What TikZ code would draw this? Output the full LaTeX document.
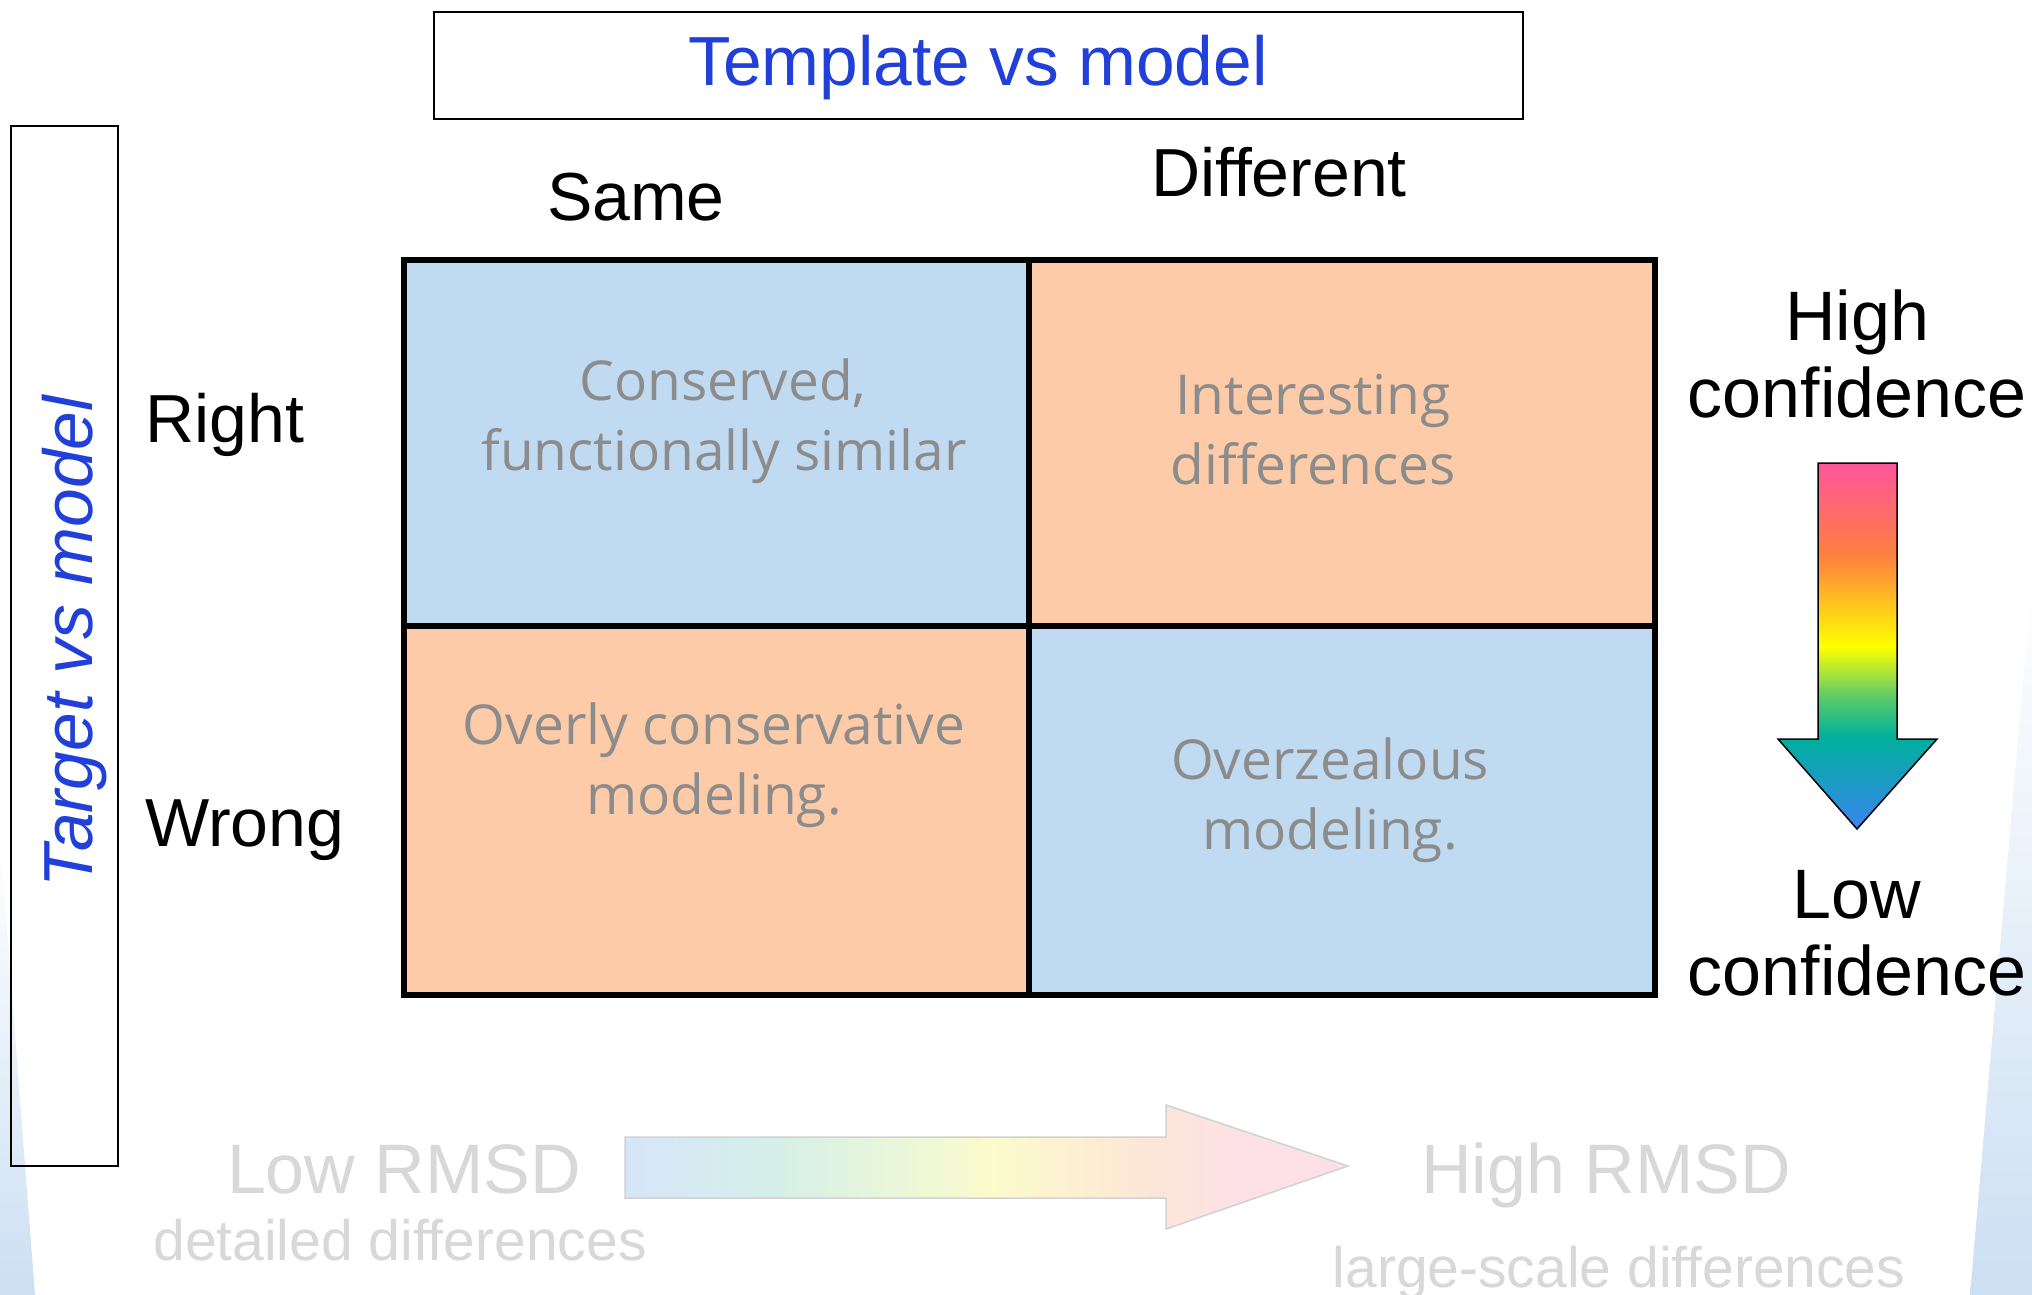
\documentclass[tikz,border=0pt]{standalone}
\usepackage{fontspec}
\setmainfont{Liberation Sans}
\newfontfamily\cellfont{Open Sans}
\usetikzlibrary{positioning}
\definecolor{cellblue}{HTML}{C0DAF2}
\definecolor{cellorange}{HTML}{FDCBA7}
\definecolor{titleblue}{HTML}{2140DA}
\definecolor{cellgray}{HTML}{8C8C8C}
\definecolor{rmsdgray}{HTML}{D8D8D8}
\definecolor{wedgeblue}{HTML}{CCDFF3}
\definecolor{cpink}{HTML}{FF559B}
\definecolor{corange}{HTML}{FF7F40}
\definecolor{cyellow}{HTML}{FFFF00}
\definecolor{cgreen}{HTML}{5ACB6A}
\definecolor{cteal}{HTML}{00B09C}
\definecolor{cblue}{HTML}{3A84EE}
\definecolor{ra}{HTML}{D6E5F9}
\definecolor{rb}{HTML}{D5F0E9}
\definecolor{rc}{HTML}{FBFBCC}
\definecolor{rd}{HTML}{FDE7D6}
\definecolor{re}{HTML}{FDE0E7}
\pgfdeclareverticalshading{confshade}{100bp}{color(0bp)=(cblue); color(25bp)=(cblue); color(37.5bp)=(cteal); color(43bp)=(cgreen); color(50bp)=(cyellow); color(62.5bp)=(corange); color(75bp)=(cpink); color(100bp)=(cpink)}
\pgfdeclarehorizontalshading{rmsdshade}{100bp}{color(0bp)=(ra); color(25bp)=(ra); color(35.5bp)=(rb); color(50.5bp)=(rc); color(60.5bp)=(rd); color(68bp)=(re); color(75bp)=(re); color(100bp)=(re)}
\tikzset{
  lbl/.style={inner sep=0pt, anchor=base, font=\fontsize{68}{80}\selectfont},
  celltxt/.style={inner sep=0pt, anchor=base, text=cellgray, font=\cellfont\fontsize{55}{64}\selectfont},
  rmsdbig/.style={inner sep=0pt, anchor=base, text=rmsdgray, font=\fontsize{70}{80}\selectfont},
  rmsdsmall/.style={inner sep=0pt, anchor=base, text=rmsdgray, font=\fontsize{57}{66}\selectfont},
  conf/.style={inner sep=0pt, anchor=base, font=\fontsize{70}{80}\selectfont},
  gridline/.style={line width=6.5pt, black},
}
\begin{document}
\begin{tikzpicture}[x=1pt,y=-1pt]
\useasboundingbox (0,0) rectangle (2032,1295);
\fill[white] (0,0) rectangle (2032,1295);
% background wedges
\shade[top color=white, bottom color=wedgeblue] (2032,577) -- (1970,1295) -- (2032,1295) -- cycle;
\shade[top color=white, bottom color=wedgeblue] (0,840) -- (35,1295) -- (0,1295) -- cycle;
% title box
\draw[line width=1.5pt] (434,12) rectangle (1523,119);
\node[lbl, text=titleblue, font=\fontsize{69.5}{80}\selectfont] (title) at (978,86) {Template vs model};
% left box
\draw[line width=2pt] (11,126) rectangle (118,1166);
\node[lbl, text=titleblue, rotate=90, font=\itshape\fontsize{69.5}{80}\selectfont] (target) at (92,642) {Target vs model};
% column and row labels
\node[lbl] (same) at (636,220) {Same};
\node[lbl] (diff) at (1279,196) {Different};
\node[lbl, anchor=base west] (right) at (145,442) {Right};
\node[lbl, anchor=base west] (wrong) at (145,846) {Wrong};
% cells
\fill[cellblue] (404,260) rectangle (1029,626);
\fill[cellorange] (1029,260) rectangle (1655,626);
\fill[cellorange] (404,626) rectangle (1029,995);
\fill[cellblue] (1029,626) rectangle (1655,995);
\draw[gridline] (404,260) rectangle (1655,995);
\draw[gridline] (1029,260) -- (1029,995);
\draw[gridline] (404,626) -- (1655,626);
% cell texts
\node[celltxt] (c11a) at (723,400) {Conserved,};
\node[celltxt] (c11b) at (724,470) {functionally similar};
\node[celltxt] (c12a) at (1313,414) {Interesting};
\node[celltxt] (c12b) at (1313,484) {differences};
\node[celltxt] (c21a) at (714,744) {Overly conservative};
\node[celltxt] (c21b) at (714,814) {modeling.};
\node[celltxt] (c22a) at (1330,779) {Overzealous};
\node[celltxt] (c22b) at (1330,849) {modeling.};
% confidence
\node[conf] (high1) at (1857,340) {High};
\node[conf] (high2) at (1857,417) {confidence};
\node[conf] (low1) at (1857,918) {Low};
\node[conf] (low2) at (1857,995) {confidence};
\shadedraw[shading=confshade, line width=1.5pt, line join=miter]
  (1818,463) -- (1897,463) -- (1897,739) -- (1937,739) -- (1857,829) -- (1778,739) -- (1818,739) -- cycle;
% RMSD arrow
\shadedraw[shading=rmsdshade, draw=rmsdgray!85!black!20!rmsdgray, line width=1.5pt]
  (625,1137) -- (1166,1137) -- (1166,1105) -- (1348,1166) -- (1166,1229) -- (1166,1198) -- (625,1198) -- cycle;
\node[rmsdbig] (lowr) at (404,1193) {Low RMSD};
\node[rmsdsmall] (lowd) at (400,1260) {detailed differences};
\node[rmsdbig] (highr) at (1606,1193) {High RMSD};
\node[rmsdsmall] (highd) at (1619,1287) {large-scale differences};
\end{tikzpicture}
\end{document}
